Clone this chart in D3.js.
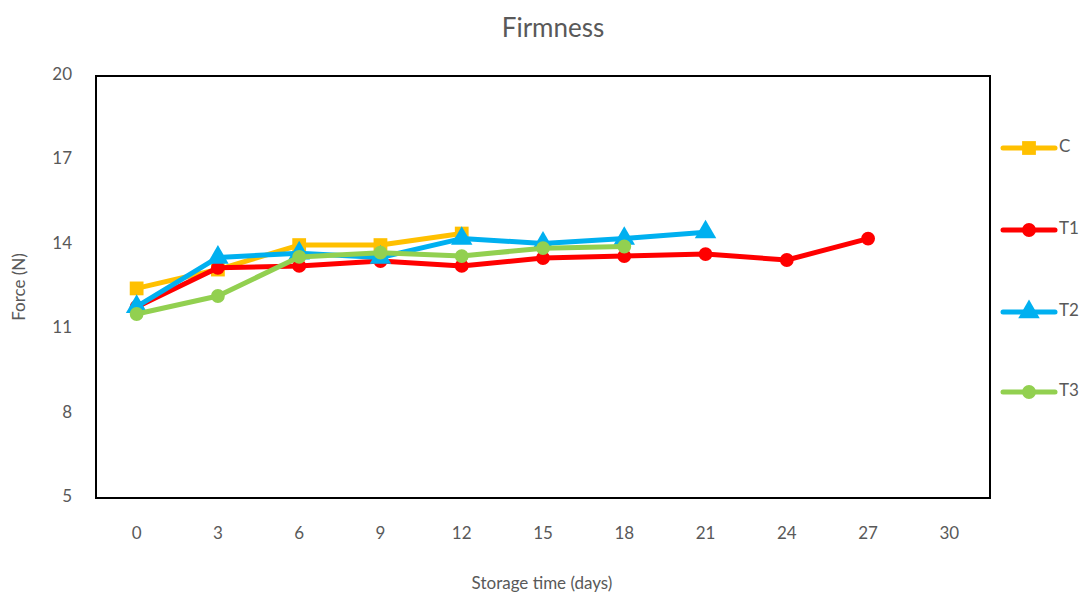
<!DOCTYPE html>
<html>
<head>
<meta charset="utf-8">
<script src="https://cdn.jsdelivr.net/npm/d3@7"></script>
<style>
  body { margin: 0; background: #fff; }
  text { font-family: Lato, "Open Sans", sans-serif; fill: #595959; }
</style>
</head>
<body>
<div id="chart"></div>
<script>
const width = 1084;
const height = 594;
const margin = {top: 76, right: 94, bottom: 96, left: 96};

// data
const days = [0, 3, 6, 9, 12, 15, 18, 21, 24, 27, 30];
const yTicks = [5, 8, 11, 14, 17, 20];
const seriesNames = ["C", "T1", "T2", "T3"];
const valuesC  = [12.45, 13.12, 13.99, 13.99, 14.4];
const valuesT1 = [11.79, 13.18, 13.25, 13.42, 13.25, 13.53, 13.6, 13.67, 13.46, 14.22];
const valuesT2 = [11.8, 13.55, 13.7, 13.55, 14.22, 14.05, 14.22, 14.45];
const valuesT3 = [11.54, 12.18, 13.57, 13.72, 13.6, 13.88, 13.94];
const colors = ["#ffc000", "#ff0000", "#00b0f0", "#92d050"];
const symbols = [d3.symbolSquare, d3.symbolCircle, d3.symbolTriangle, d3.symbolCircle];
const symbolSizes = [190, 150, 200, 150];

const series = seriesNames.map((name, i) => ({
  name: name,
  color: colors[i],
  symbol: symbols[i],
  size: symbolSizes[i],
  values: [valuesC, valuesT1, valuesT2, valuesT3][i].map((v, j) => ({day: days[j], value: v}))
}));

const svg = d3.select("#chart").append("svg")
  .attr("width", width)
  .attr("height", height);

const plotW = width - margin.left - margin.right;
const plotH = height - margin.top - margin.bottom;

const x = d3.scaleBand()
  .domain(days)
  .range([margin.left, margin.left + plotW]);

const y = d3.scaleLinear()
  .domain([5, 20])
  .range([margin.top + plotH, margin.top]);

const cx = d => x(d) + x.bandwidth() / 2;

// title
svg.append("text")
  .attr("x", 553)
  .attr("y", 37)
  .attr("text-anchor", "middle")
  .attr("font-size", "26px")
  .text("Firmness");

// y axis
const yAxis = svg.append("g")
  .attr("transform", "translate(" + margin.left + ",0)")
  .call(d3.axisLeft(y).tickValues(yTicks).tickSize(0).tickPadding(24));
yAxis.select(".domain").remove();
yAxis.selectAll("text").attr("font-size", "17px").style("fill", "#595959")
  .attr("dy", "0.2em");

// x axis
const xAxis = svg.append("g")
  .attr("transform", "translate(0," + (margin.top + plotH) + ")")
  .call(d3.axisBottom(x).tickSize(0).tickPadding(29));
xAxis.select(".domain").remove();
xAxis.selectAll("text").attr("font-size", "17px").style("fill", "#595959");

// axis titles
svg.append("text")
  .attr("transform", "translate(25," + (margin.top + plotH / 2) + ") rotate(-90)")
  .attr("text-anchor", "middle")
  .attr("font-size", "17px")
  .text("Force (N)");

svg.append("text")
  .attr("x", 542)
  .attr("y", 589)
  .attr("text-anchor", "middle")
  .attr("font-size", "17px")
  .text("Storage time (days)");

// plot frame
svg.append("rect")
  .attr("x", margin.left)
  .attr("y", margin.top)
  .attr("width", plotW)
  .attr("height", plotH)
  .attr("fill", "none")
  .attr("stroke", "#000")
  .attr("stroke-width", 2);

const line = d3.line()
  .x(d => cx(d.day))
  .y(d => y(d.value));

series.forEach(s => {
  const g = svg.append("g").attr("class", "series");
  g.append("path")
    .datum(s.values)
    .attr("d", line)
    .attr("fill", "none")
    .attr("stroke", s.color)
    .attr("stroke-width", 5)
    .attr("stroke-linejoin", "round")
    .attr("stroke-linecap", "round");
  g.selectAll("path.mark")
    .data(s.values)
    .enter()
    .append("path")
      .attr("class", "mark")
      .attr("d", d3.symbol().type(s.symbol).size(s.size))
      .attr("transform", d => "translate(" + cx(d.day) + "," + y(d.value) + ")")
      .attr("fill", s.color);
});

// legend
const legendY = [148, 230, 312, 392];
const legend = svg.append("g").attr("class", "legend");
series.forEach((s, i) => {
  const lg = legend.append("g").attr("transform", "translate(1001," + legendY[i] + ")");
  lg.append("line")
    .attr("x1", 2).attr("x2", 54)
    .attr("stroke", s.color)
    .attr("stroke-width", 5)
    .attr("stroke-linecap", "round");
  lg.append("path")
    .attr("d", d3.symbol().type(s.symbol).size(s.size))
    .attr("transform", "translate(28,0)")
    .attr("fill", s.color);
  lg.append("text")
    .attr("x", 58)
    .attr("y", 0)
    .attr("dy", "0.25em")
    .attr("font-size", "17px")
    .text(s.name);
});
</script>
</body>
</html>
